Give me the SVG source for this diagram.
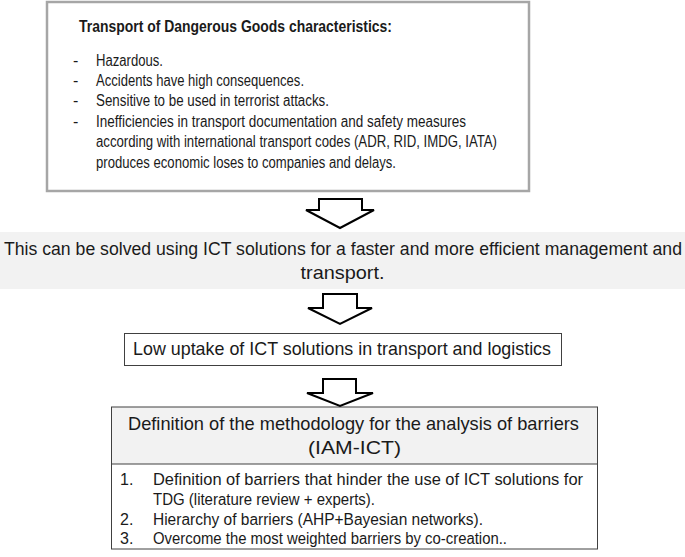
<svg xmlns="http://www.w3.org/2000/svg" width="685" height="557" viewBox="0 0 685 557">
<style>
text{font-family:"Liberation Sans",Arial,sans-serif;fill:#1a1a1a}
.t16{font-size:16px}
.t20{font-size:19px}
.band{font-size:17.5px}
.b{font-weight:bold;font-size:17px}
.arrow{fill:#fff;stroke:#000;stroke-width:2;stroke-linejoin:miter}
</style>
<rect width="685" height="557" fill="#fff"/>
<g id="characteristics">
<rect x="47" y="2" width="482" height="189" fill="#fff" stroke="#a6a6a6" stroke-width="2.5"/>
<text class="b" x="79" y="32" textLength="313" lengthAdjust="spacingAndGlyphs">Transport of Dangerous Goods characteristics:</text>
<g class="t16">
<text x="73" y="66">-</text><text x="96" y="66" textLength="67" lengthAdjust="spacingAndGlyphs">Hazardous.</text>
<text x="73" y="86">-</text><text x="96" y="86" textLength="208" lengthAdjust="spacingAndGlyphs">Accidents have high consequences.</text>
<text x="73" y="106">-</text><text x="96" y="106" textLength="233" lengthAdjust="spacingAndGlyphs">Sensitive to be used in terrorist attacks.</text>
<text x="73" y="127">-</text><text x="96" y="127" textLength="370" lengthAdjust="spacingAndGlyphs">Inefficiencies in transport documentation and safety measures</text>
<text x="96" y="147" textLength="401" lengthAdjust="spacingAndGlyphs">according with international transport codes (ADR, RID, IMDG, IATA)</text>
<text x="96" y="168" textLength="300" lengthAdjust="spacingAndGlyphs">produces economic loses to companies and delays.</text>
</g>
</g>
<g id="solution">
<rect x="0" y="232" width="685" height="57" fill="#f2f2f2"/>
<text class="band" x="4" y="255" textLength="678" lengthAdjust="spacingAndGlyphs">This can be solved using ICT solutions for a faster and more efficient management and</text>
<text class="t20" x="342.5" y="279" text-anchor="middle" textLength="84" lengthAdjust="spacingAndGlyphs">transport.</text>
</g>
<g id="low-uptake">
<rect x="124.5" y="333.5" width="437" height="32" fill="#fff" stroke="#404040" stroke-width="1"/>
<text class="t20" x="133" y="355" textLength="418" lengthAdjust="spacingAndGlyphs">Low uptake of ICT solutions in transport and logistics</text>
</g>
<g id="methodology">
<rect x="111.5" y="407" width="486" height="57" fill="#f2f2f2"/>
<rect x="111.5" y="407" width="486" height="142" fill="none" stroke="#404040" stroke-width="1"/>
<line x1="111.5" y1="464" x2="597.5" y2="464" stroke="#404040" stroke-width="1"/>
<text class="t20" x="128" y="430" textLength="451" lengthAdjust="spacingAndGlyphs">Definition of the methodology for the analysis of barriers</text>
<text class="t20" x="354.5" y="454" text-anchor="middle" textLength="93" lengthAdjust="spacingAndGlyphs">(IAM-ICT)</text>
<g class="t16">
<text x="120" y="485">1.</text><text x="153" y="485" textLength="430" lengthAdjust="spacingAndGlyphs">Definition of  barriers that hinder the use of ICT solutions for</text>
<text x="153" y="505" textLength="222" lengthAdjust="spacingAndGlyphs">TDG (literature review + experts).</text>
<text x="120" y="525">2.</text><text x="153" y="525" textLength="330" lengthAdjust="spacingAndGlyphs">Hierarchy of barriers (AHP+Bayesian networks).</text>
<text x="120" y="544">3.</text><text x="153" y="544" textLength="354" lengthAdjust="spacingAndGlyphs">Overcome the most weighted barriers by co-creation..</text>
</g>
</g>
<g id="connectors">
<polygon class="arrow" points="319,199 362,199 362,210 374,210 340,228 306,210 319,210"/>
<polygon class="arrow" points="323,294 357,294 357,308 372,308 340,324 308,308 323,308"/>
<polygon class="arrow" points="323,379 356,379 356,393 373,393 340,406 307,393 323,393"/>
</g>
</svg>
